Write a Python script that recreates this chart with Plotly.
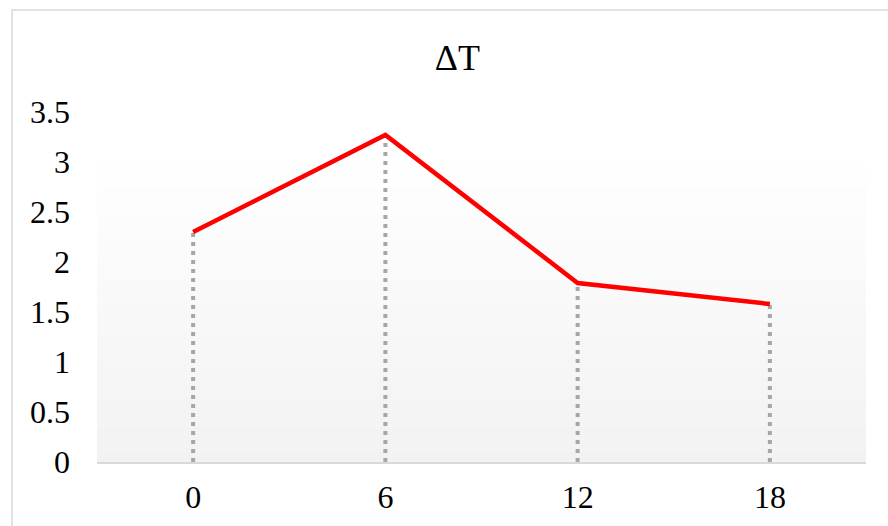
import plotly.graph_objects as go

categories = ["0", "6", "12", "18"]
delta_t = [2.30, 3.27, 1.79, 1.58]
y_ticks = [0, 0.5, 1, 1.5, 2, 2.5, 3, 3.5]
title_text = "ΔT"

FONT = "Liberation Serif"

fig = go.Figure()

# drop lines from each point to the axis
for c, v in zip(categories, delta_t):
    fig.add_trace(go.Scatter(
        x=[c, c], y=[0, v], mode="lines",
        line=dict(color="#a6a6a6", width=4, dash="4px,5px"),
        hoverinfo="skip", showlegend=False,
    ))

fig.add_trace(go.Scatter(
    x=categories, y=delta_t, mode="lines",
    line=dict(color="#ff0000", width=4.5),
    showlegend=False, name="ΔT",
))

shapes = []
# gradient plot-area background (light gray at bottom to white at top)
n = 60
top = 0.886
for i in range(n):
    f0 = i / n
    f1 = (i + 1) / n
    t = (i + 0.5) / n  # 0 at bottom -> 1 at top
    g = round(242 + (255 - 242) * t)
    shapes.append(dict(
        type="rect", xref="x domain", yref="y domain",
        x0=0, x1=1, y0=top * f0, y1=top * f1 + 0.001,
        fillcolor=f"rgb({g},{g},{g})", line=dict(width=0), layer="below",
    ))
# outer chart border
shapes.append(dict(
    type="rect", xref="paper", yref="paper",
    x0=-0.1105, x1=1.2, y0=-0.5, y1=1.2914,
    line=dict(color="#d9d9d9", width=1.5), fillcolor="rgba(0,0,0,0)",
    layer="above",
))

fig.update_layout(
    width=888, height=526,
    margin=dict(l=97, r=22, t=112, b=64, autoexpand=False),
    paper_bgcolor="white", plot_bgcolor="white",
    font=dict(family=FONT, size=32, color="black"),
    title=dict(text=title_text, x=0.515, xanchor="center", xref="container",
               y=1 - 57 / 526, yanchor="middle", yref="container",
               font=dict(family=FONT, size=36, color="black")),
    shapes=shapes,
    xaxis=dict(
        type="category", range=[-0.5, 3.5], showgrid=False,
        showline=True, linecolor="#d9d9d9", linewidth=2,
        ticks="", ticklabelstandoff=6, zeroline=False, automargin=False,
        tickfont=dict(family=FONT, size=32, color="black"),
    ),
    yaxis=dict(
        range=[0, 3.5], tickvals=y_ticks,
        ticktext=[f"{v:g}" for v in y_ticks],
        showgrid=False, zeroline=False, showline=False, automargin=False,
        ticks="", ticklabelstandoff=26,
        tickfont=dict(family=FONT, size=32, color="black"),
    ),
)

fig.write_html("out.html")
